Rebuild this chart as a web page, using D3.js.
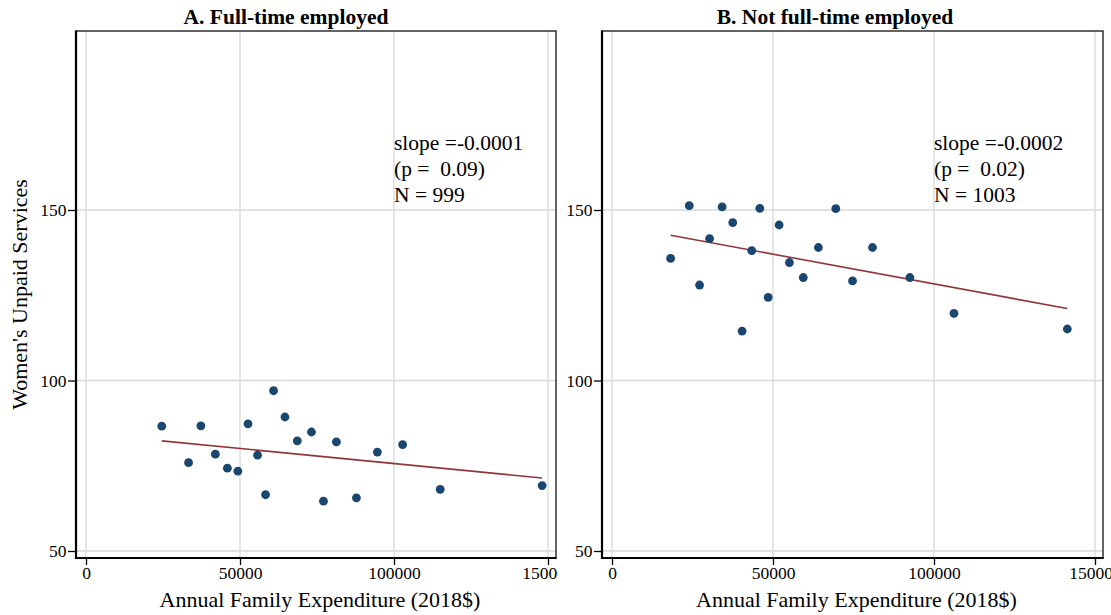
<!DOCTYPE html>
<html>
<head>
<meta charset="utf-8">
<script src="https://cdn.jsdelivr.net/npm/d3@7"></script>
<style>
  html, body { margin: 0; padding: 0; background: #fff; }
  svg { display: block; font-family: "Liberation Serif", "Times New Roman", serif; }
</style>
</head>
<body>
<div id="chart"></div>
<script>
// Binned scatter: women's unpaid services vs annual family expenditure
const xTicks = [0, 50000, 100000, 150000];
const yTicks = [50, 100, 150];

const titleA = 'A. Full-time employed';
const expA = [24600, 33300, 37300, 42000, 45900, 49300, 52600, 55700, 58300, 60900,
              64600, 68600, 73200, 77100, 81300, 87800, 94600, 102800, 115000, 148100];
const unpaidA = [86.6, 75.9, 86.7, 78.4, 74.3, 73.4, 87.3, 78.1, 66.5, 97.0,
                 89.3, 82.3, 84.9, 64.6, 82.0, 65.6, 79.0, 81.2, 68.1, 69.2];
const fitXA = [24600, 148100];
const fitYA = [82.3, 71.4];
const noteA = ['slope =-0.0001', '(p =  0.09)', 'N = 999'];

const titleB = 'B. Not full-time employed';
const expB = [18200, 24000, 27200, 30300, 34200, 37500, 40400, 43400, 45900, 48500,
              51900, 55100, 59400, 64100, 69500, 74700, 80900, 92500, 106200, 141400];
const unpaidB = [135.8, 151.3, 128.0, 141.6, 150.9, 146.3, 114.5, 138.1, 150.5, 124.4,
                 145.6, 134.6, 130.2, 139.0, 150.4, 129.2, 139.0, 130.2, 119.7, 115.1];
const fitXB = [18200, 141400];
const fitYB = [142.6, 121.1];
const noteB = ['slope =-0.0002', '(p =  0.02)', 'N = 1003'];

const xTitle = 'Annual Family Expenditure (2018$)';
const yTitle = "Women's Unpaid Services";

const dotColor = '#1a476f';
const fitColor = '#90353b';
const gridColor = '#d9d9d9';

const width = 1111;
const height = 615;
const plotTop = 31;
const plotBottom = 558;

const svg = d3.select('#chart').append('svg')
  .attr('width', width)
  .attr('height', height)
  .attr('viewBox', `0 0 ${width} ${height}`);

svg.append('rect').attr('width', width).attr('height', height).attr('fill', '#fff');

const y = d3.scaleLinear().domain([50, 150]).range([551, 210]);

function panel(p) {
  const x = d3.scaleLinear().domain([0, 150000]).range([p.left + 10, p.right - 8]);
  const g = svg.append('g');

  if (p.clip) {
    svg.append('clipPath').attr('id', p.clip)
      .append('rect').attr('x', 0).attr('y', 0).attr('width', p.clipRight).attr('height', height);
    g.attr('clip-path', `url(#${p.clip})`);
  }

  // grid
  g.selectAll('.gx').data(xTicks).enter().append('line')
    .attr('x1', d => x(d)).attr('x2', d => x(d))
    .attr('y1', plotTop).attr('y2', plotBottom)
    .attr('stroke', gridColor).attr('stroke-width', 1.3);
  g.selectAll('.gy').data(yTicks).enter().append('line')
    .attr('x1', p.left).attr('x2', p.right)
    .attr('y1', d => y(d)).attr('y2', d => y(d))
    .attr('stroke', gridColor).attr('stroke-width', 1.3);

  // plot region outline, then the heavier axis lines
  g.append('rect')
    .attr('x', p.left).attr('y', plotTop)
    .attr('width', p.right - p.left).attr('height', plotBottom - plotTop)
    .attr('fill', 'none').attr('stroke', '#111').attr('stroke-width', 1.3);

  const xAxis = g.append('g')
    .attr('transform', `translate(0,${plotBottom})`)
    .call(d3.axisBottom(x).tickValues(xTicks).tickFormat(d3.format('d')).tickSize(7).tickPadding(2));
  const yAxis = g.append('g')
    .attr('transform', `translate(${p.left},0)`)
    .call(d3.axisLeft(y).tickValues(yTicks).tickSize(8).tickPadding(1.5));
  [xAxis, yAxis].forEach(a => {
    a.select('.domain').remove();
    a.selectAll('line').attr('stroke', '#000').attr('stroke-width', 1.3);
    a.selectAll('text')
      .attr('fill', '#000')
      .style('font-family', '"Liberation Serif", "Times New Roman", serif')
      .style('font-size', '17.5px');
  });

  g.append('line')
    .attr('x1', p.left).attr('x2', p.left).attr('y1', plotTop - 0.6).attr('y2', plotBottom + 1)
    .attr('stroke', '#000').attr('stroke-width', 2.2);
  g.append('line')
    .attr('x1', p.left).attr('x2', p.right + 0.6).attr('y1', plotBottom).attr('y2', plotBottom)
    .attr('stroke', '#000').attr('stroke-width', 2.2);

  // fitted line
  const fit = p.fitX.map((v, i) => [v, p.fitY[i]]);
  g.append('path')
    .attr('d', d3.line().x(d => x(d[0])).y(d => y(d[1]))(fit))
    .attr('fill', 'none').attr('stroke', fitColor).attr('stroke-width', 1.6);

  // binned points
  const pts = p.xs.map((v, i) => ({ x: v, y: p.ys[i] }));
  g.selectAll('.dot').data(pts).enter().append('circle')
    .attr('class', 'dot')
    .attr('cx', d => x(d.x)).attr('cy', d => y(d.y))
    .attr('r', 4.4)
    .attr('fill', dotColor);

  // slope / p / N annotation, anchored at x = 100000
  g.selectAll('.note').data(p.note).enter().append('text')
    .attr('x', x(100000))
    .attr('y', (d, i) => 150 + i * 26)
    .attr('xml:space', 'preserve')
    .style('white-space', 'pre')
    .style('font-size', '21.5px')
    .attr('fill', '#000')
    .text(d => d);

  // panel title
  svg.append('text')
    .attr('x', p.titleX).attr('y', 24)
    .attr('text-anchor', 'middle')
    .style('font-size', '21.5px').style('font-weight', 'bold')
    .text(p.title);

  // x axis title
  svg.append('text')
    .attr('x', (p.left + p.right) / 2 + 4).attr('y', 607)
    .attr('text-anchor', 'middle')
    .style('font-size', '22px')
    .text(xTitle);
}

panel({ left: 76, right: 556, xs: expA, ys: unpaidA, fitX: fitXA, fitY: fitYA, note: noteA,
        title: titleA, titleX: 286, clip: 'clipA', clipRight: 558 });
panel({ left: 602, right: 1103, xs: expB, ys: unpaidB, fitX: fitXB, fitY: fitYB, note: noteB,
        title: titleB, titleX: 835 });

svg.append('text')
  .attr('transform', `translate(27,${(plotTop + plotBottom) / 2}) rotate(-90)`)
  .attr('text-anchor', 'middle')
  .style('font-size', '22px')
  .text(yTitle);
</script>
</body>
</html>
